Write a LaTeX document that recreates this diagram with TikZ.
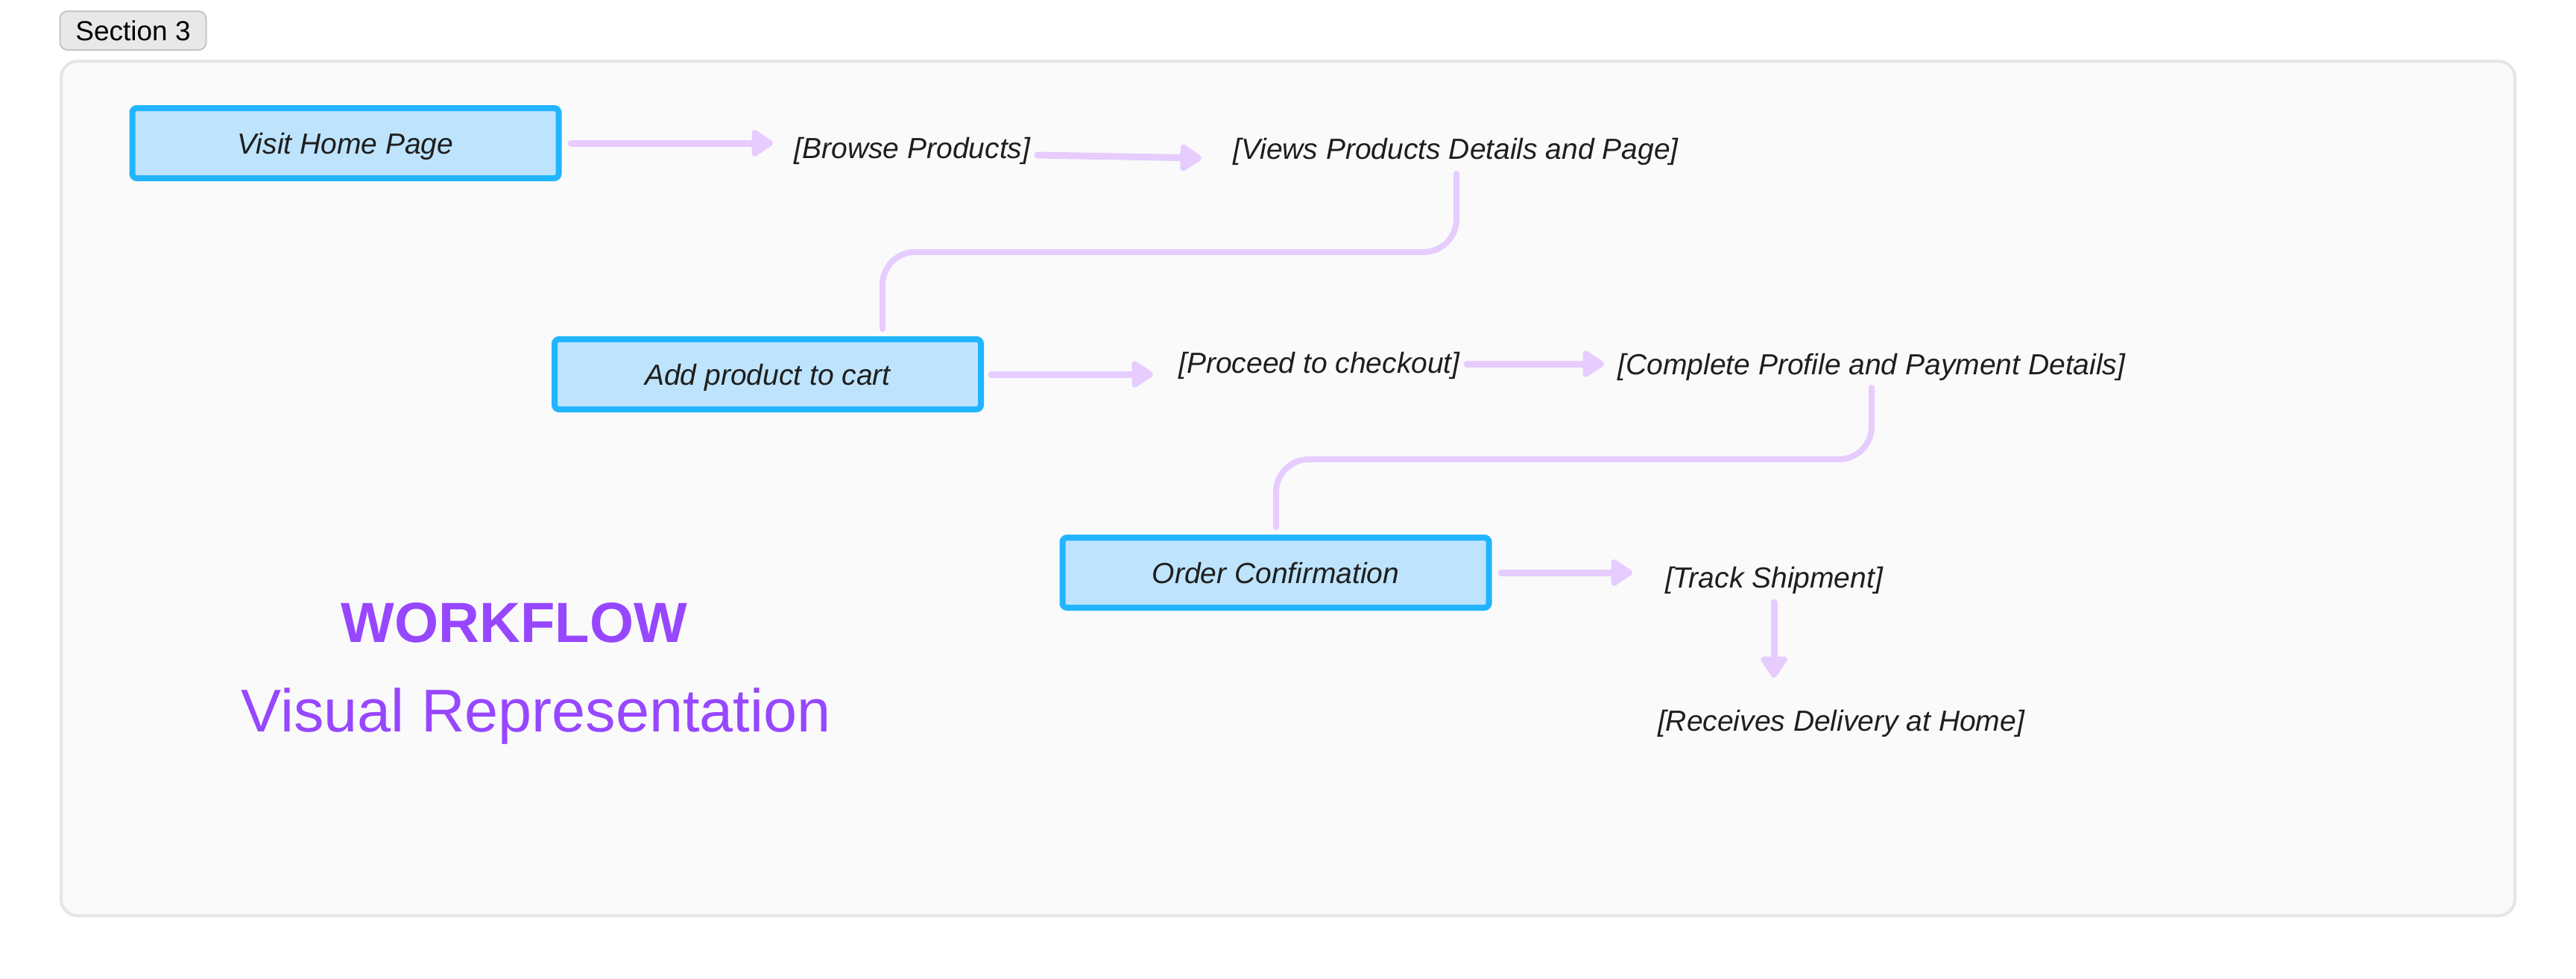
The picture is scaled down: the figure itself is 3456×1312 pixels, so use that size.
\documentclass[tikz,border=0pt]{standalone}
\usepackage{fontspec}
\setmainfont{Liberation Sans}
\newfontfamily\handfont{Liberation Sans}
\usetikzlibrary{arrows.meta}
\definecolor{boxblue}{HTML}{22B5FF}
\definecolor{boxfill}{HTML}{BEE3FC}
\definecolor{arrowc}{HTML}{E6CCFF}
\definecolor{purp}{HTML}{9747FF}
\definecolor{contfill}{HTML}{FAFAFA}
\definecolor{contline}{HTML}{E5E5E5}
\definecolor{tagfill}{HTML}{E8E8E8}
\definecolor{tagline}{HTML}{C6C6C6}
\definecolor{ink}{HTML}{1E1E1E}
\begin{document}
\begin{tikzpicture}[x=0.5pt,y=-0.5pt,
  hand/.style={font=\handfont\itshape\fontsize{19.5}{23}\selectfont, text=ink, inner sep=0pt},
  stepbox/.style={draw=boxblue, fill=boxfill, line width=4pt, rounded corners=3pt,
    minimum width=286pt, minimum height=47pt, inner sep=0pt, hand, text height=14pt, text depth=0pt},
  flow/.style={draw=arrowc, line width=4.5pt, line cap=round,
    -{Triangle[length=16pt,width=20pt,round]}},
  conn/.style={draw=arrowc, line width=4pt, line cap=round, rounded corners=22pt},
]
\useasboundingbox (0,0) rectangle (3456,1312);
\fill[white] (0,0) rectangle (3456,1312);
% container
\draw[draw=contline, fill=contfill, line width=2pt, rounded corners=11pt] (82,82) rectangle (3374,1228);
% section tag
\node[draw=tagline, fill=tagfill, line width=1pt, rounded corners=5pt, minimum width=98pt,
  minimum height=26pt, inner sep=0pt, font=\fontsize{18.5}{22}\selectfont, text height=13pt, text depth=0pt] (sec) at (178.5,41) {Section 3};
% boxes
\node[stepbox] (visit) at (463.5,192) {Visit Home Page};
\node[stepbox] (add) at (1030,502) {Add product to cart};
\node[stepbox] (order) at (1711.5,768) {Order Confirmation};
% labels
\node[hand, anchor=base] (browse) at (1224,212) {[Browse Products]};
\node[hand, anchor=base] (views) at (1953,213) {[Views Products Details and Page]};
\node[hand, anchor=base] (proceed) at (1770,500) {[Proceed to checkout]};
\node[hand, anchor=base] (complete) at (2511,502) {[Complete Profile and Payment Details]};
\node[hand, anchor=base] (track) at (2380,788) {[Track Shipment]};
\node[hand, anchor=base] (receives) at (2470,980) {[Receives Delivery at Home]};
% titles
\node[font=\bfseries\fontsize{38}{44}\selectfont, text=purp, anchor=base, inner sep=0pt] (wf) at (690,861) {WORKFLOW};
\node[font=\fontsize{40.5}{48}\selectfont, text=purp, anchor=base, inner sep=0pt] (vr) at (719,981) {Visual Representation};
% arrow end coordinates
\coordinate (a1s) at (766,192);  \coordinate (a1e) at (1037,192);
\coordinate (a2s) at (1392,208); \coordinate (a2e) at (1612,212);
\coordinate (a3s) at (1330,502); \coordinate (a3e) at (1547,502);
\coordinate (a4s) at (1968,488); \coordinate (a4e) at (2152,488);
\coordinate (a5s) at (2014,768); \coordinate (a5e) at (2190,768);
\coordinate (a6s) at (2380,808); \coordinate (a6e) at (2380,909);
\draw[flow] (a1s) -- (a1e);
\draw[flow] (a2s) -- (a2e);
\draw[flow] (a3s) -- (a3e);
\draw[flow] (a4s) -- (a4e);
\draw[flow] (a5s) -- (a5e);
\draw[flow] (a6s) -- (a6e);
% elbow connectors
\coordinate (c1s) at (1954,233); \coordinate (c1e) at (1184,441);
\coordinate (c2s) at (2511,520); \coordinate (c2e) at (1712,707);
\draw[conn] (c1s) -- (1954,338) -- (1184,338) -- (c1e);
\draw[conn] (c2s) -- (2511,616) -- (1712,616) -- (c2e);
\end{tikzpicture}
\end{document}
